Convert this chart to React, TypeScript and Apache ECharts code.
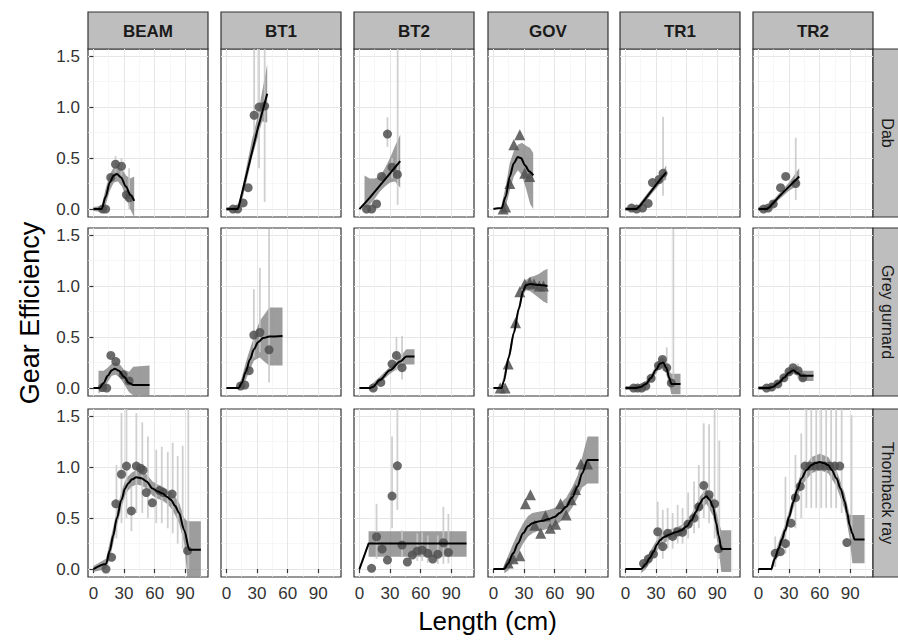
import React, { useEffect, useRef } from "react";
import * as echarts from "echarts";

const gears = ["BEAM", "BT1", "BT2", "GOV", "TR1", "TR2"];
const species = ["Dab", "Grey gurnard", "Thornback ray"];
const xTicks = [0, 30, 60, 90];
const xMinor = [15, 45, 75, 105];
const yTicks = [0, 0.5, 1, 1.5];
const yMinor = [0.25, 0.75, 1.25];

// ---------- Dab ----------
const dabBeamPts = [[9, 0], [12, 0], [17, 0.31], [21.7, 0.44], [27.5, 0.42], [32.4, 0.14], [35, 0.11]];
const dabBeamErr = [[21.7, 0.36, 0.52], [27.5, 0.33, 0.5], [35, 0.0, 0.4]];
const dabBeamFit = [[0, 0], [8, 0], [12, 0.12], [16, 0.26], [20, 0.33], [23, 0.345], [27, 0.31], [32, 0.22], [36, 0.14], [40, 0.08]];
const dabBeamBand = [[0, -0.02, 0.02], [8, -0.03, 0.03], [12, 0.04, 0.2], [16, 0.18, 0.34], [20, 0.26, 0.41], [24, 0.27, 0.42], [28, 0.22, 0.39], [32, 0.11, 0.33], [36, 0.0, 0.3], [40, -0.08, 0.32]];

const dabBt1Pts = [[6.5, 0], [11, 0], [16.4, 0.06], [21.3, 0.21], [27.2, 0.92], [32, 1.0], [37.5, 1.01]];
const dabBt1Err = [[27.2, 0.75, 1.6], [32, 0.4, 1.6], [37.5, 0.07, 1.6]];
const dabBt1Fit = [[0, 0], [11, 0], [12, 0.02], [20, 0.35], [30, 0.76], [40, 1.13]];
const dabBt1Band = [[0, -0.02, 0.02], [11, -0.02, 0.02], [15, 0.07, 0.18], [20, 0.28, 0.43], [25, 0.5, 0.68], [30, 0.68, 0.88], [35, 0.86, 1.15], [40, 0.85, 1.42]];

const dabBt2Pts = [[7, 0], [12, 0], [16.8, 0.05], [21.7, 0.32], [27.5, 0.735], [32, 0.41], [37.2, 0.34]];
const dabBt2Err = [[27.5, 0.61, 0.9], [32, 0.3, 0.5], [37.5, 0.04, 1.6]];
const dabBt2Fit = [[0, 0], [10, 0.11], [20, 0.23], [30, 0.35], [40, 0.47]];
const dabBt2Band = [[5, 0.0, 0.33], [10, 0.04, 0.3], [15, 0.1, 0.3], [20, 0.17, 0.32], [25, 0.22, 0.4], [30, 0.26, 0.5], [35, 0.27, 0.62], [40, 0.21, 0.73]];

const dabGovPts = [[9.5, 0], [12, 0.02], [16.1, 0.25], [20, 0.63], [25.9, 0.73], [30.7, 0.35], [35.6, 0.32]];
const dabGovErr: number[][] = [];
const dabGovFit = [[0, 0], [8, 0.01], [12, 0.12], [16, 0.32], [20, 0.45], [24, 0.51], [27, 0.5], [31, 0.43], [35, 0.37], [39, 0.33]];
const dabGovBand = [[8, -0.02, 0.04], [12, 0.02, 0.22], [16, 0.18, 0.45], [20, 0.32, 0.57], [24, 0.38, 0.63], [28, 0.33, 0.65], [32, 0.2, 0.62], [36, 0.05, 0.6], [39, 0.0, 0.55]];

const dabTr1Pts = [[6, 0.01], [11, 0], [16.8, 0.01], [22.3, 0.055], [26.5, 0.26], [33, 0.29], [36.9, 0.35]];
const dabTr1Err = [[36.9, 0.13, 0.905]];
const dabTr1Fit = [[0, 0], [11, 0], [15, 0.04], [25, 0.17], [35, 0.3], [40, 0.36]];
const dabTr1Band = [[0, -0.02, 0.02], [11, -0.02, 0.02], [15, 0.01, 0.07], [25, 0.14, 0.2], [35, 0.26, 0.34], [40, 0.29, 0.43]];

const dabTr2Pts = [[5, 0], [9.6, 0.01], [14.5, 0.05], [21.7, 0.21], [26.8, 0.32], [36.6, 0.25]];
const dabTr2Err = [[36.6, 0.09, 0.7]];
const dabTr2Fit = [[0, 0], [8, 0], [11, 0.02], [20, 0.12], [30, 0.22], [40, 0.32]];
const dabTr2Band = [[0, -0.02, 0.02], [8, -0.02, 0.02], [11, -0.01, 0.05], [20, 0.09, 0.15], [30, 0.18, 0.26], [40, 0.24, 0.4]];

// ---------- Grey gurnard ----------
const ggBeamPts = [[9, 0.005], [13, 0], [17.1, 0.32], [22, 0.26], [29.1, 0.13], [35, 0.07]];
const ggBeamErr: number[][] = [];
const ggBeamFit = [[0, 0], [6, 0], [10, 0.05], [14, 0.12], [18, 0.175], [21, 0.19], [25, 0.17], [30, 0.11], [35, 0.05], [39, 0.03], [55, 0.03]];
const ggBeamBand = [[5, -0.05, 0.17], [10, -0.02, 0.17], [14, 0.06, 0.2], [18, 0.12, 0.24], [22, 0.13, 0.25], [26, 0.1, 0.23], [30, 0.04, 0.18], [35, -0.04, 0.16], [39, -0.07, 0.21], [55, -0.07, 0.22]];

const ggBt1Pts = [[13.9, 0.02], [18, 0.03], [22.3, 0.17], [26.9, 0.52], [32.8, 0.545], [41.8, 0.375]];
const ggBt1Err = [[26.9, 0.3, 0.97], [32.8, 0.35, 1.18], [41.8, 0.055, 1.56]];
const ggBt1Fit = [[0, 0], [12, 0], [15, 0.05], [19, 0.16], [23, 0.28], [27, 0.38], [31, 0.45], [36, 0.49], [42, 0.505], [55, 0.51]];
const ggBt1Band = [[12, -0.02, 0.03], [15, 0.0, 0.1], [19, 0.08, 0.25], [23, 0.18, 0.38], [27, 0.27, 0.5], [32.7, 0.3, 0.66], [37, 0.26, 0.72], [42, 0.22, 0.79], [55, 0.22, 0.79]];

const ggBt2Pts = [[13.5, 0], [21, 0.055], [32, 0.235], [36.3, 0.32], [41.8, 0.2]];
const ggBt2Err = [[36.3, 0.17, 0.5], [41.8, 0.085, 0.51]];
const ggBt2Fit = [[0, 0], [10, 0], [13, 0.01], [20, 0.08], [30, 0.175], [40, 0.26], [46, 0.31], [54, 0.31]];
const ggBt2Band = [[10, -0.02, 0.02], [20, 0.05, 0.11], [30, 0.14, 0.21], [40, 0.21, 0.31], [46, 0.23, 0.38], [54, 0.23, 0.38]];

const ggGovPts = [[6.7, 0], [11.5, 0], [14.5, 0.235], [21.7, 0.64], [25.9, 0.945], [30.7, 1.02], [35.6, 1.035], [39.8, 1.02], [45, 1.0], [49, 1.0]];
const ggGovErr: number[][] = [];
const ggGovFit = [[0, 0], [8, 0], [10, 0.06], [15, 0.3], [20, 0.54], [25, 0.78], [29, 0.95], [32, 1.01], [36, 1.02], [45, 1.01], [53, 1.0]];
const ggGovBand = [[8, -0.03, 0.03], [15, 0.26, 0.34], [20, 0.5, 0.58], [25, 0.74, 0.82], [29, 0.91, 0.99], [32, 0.96, 1.06], [36, 0.95, 1.09], [40, 0.92, 1.1], [45, 0.88, 1.12], [49, 0.85, 1.15], [53, 0.83, 1.17]];

const ggTr1Pts = [[8, 0], [12, 0], [16, 0], [20, 0.02], [25.2, 0.095], [32.4, 0.22], [36.3, 0.28], [40.5, 0.2], [45, 0.05]];
const ggTr1Err = [[47, 0.02, 1.56], [40.5, 0.12, 0.4]];
const ggTr1Fit = [[0, 0], [10, 0], [15, 0.01], [20, 0.04], [25, 0.1], [30, 0.18], [34, 0.24], [37, 0.25], [40, 0.2], [43, 0.1], [45, 0.04], [54, 0.04]];
const ggTr1Band = [[0, -0.02, 0.02], [10, -0.02, 0.02], [20, 0.01, 0.07], [25, 0.07, 0.13], [30, 0.14, 0.22], [34, 0.2, 0.29], [37, 0.2, 0.3], [40, 0.14, 0.26], [43, 0.03, 0.17], [45, -0.06, 0.14], [54, -0.06, 0.14]];

const ggTr2Pts = [[8, 0], [13, 0.01], [19, 0.04], [25, 0.1], [30, 0.16], [34, 0.2], [38.9, 0.17], [43.5, 0.1]];
const ggTr2Err = [[38.9, 0.1, 0.24]];
const ggTr2Fit = [[0, 0], [10, 0], [14, 0.01], [20, 0.05], [25, 0.1], [30, 0.15], [34, 0.175], [38, 0.15], [42, 0.12], [54, 0.12]];
const ggTr2Band = [[0, -0.02, 0.02], [10, -0.02, 0.02], [20, 0.03, 0.08], [25, 0.07, 0.13], [30, 0.12, 0.18], [34, 0.14, 0.21], [38, 0.12, 0.19], [42, 0.07, 0.17], [54, 0.07, 0.17]];

// ---------- Thornback ray ----------
const trBeamPts = [[12.3, 0], [17.8, 0.115], [22, 0.64], [27.5, 0.93], [32.4, 1.01], [37.2, 0.57], [42.1, 1.01], [46.3, 0.99], [48.6, 0.97], [51.8, 0.75], [57.7, 0.65], [64.8, 0.77], [68.5, 0.75], [77.1, 0.735], [92.3, 0.18]];
const trBeamErr = [[22.6, 0.3, 1.02], [27.5, 0.45, 1.53], [32.4, 0.5, 1.6], [37.2, 0.37, 0.81], [42.1, 0.55, 1.53], [47.9, 0.55, 1.44], [53.4, 0.5, 1.3], [61.6, 0.45, 1.17], [67, 0.45, 1.2], [72.9, 0.4, 1.15], [77.7, 0.35, 1.24], [82.6, 0.25, 1.11], [87.5, 0.2, 1.21], [93, 0.0, 1.6]];
const trBeamFit = [[0, 0], [12.3, 0.05], [16, 0.18], [19.4, 0.33], [23, 0.5], [27.5, 0.68], [31, 0.79], [34, 0.84], [38, 0.88], [42, 0.9], [47, 0.89], [52, 0.86], [58, 0.79], [63, 0.76], [68, 0.74], [72, 0.71], [76, 0.68], [80, 0.62], [84, 0.55], [89, 0.38], [94, 0.19], [105.3, 0.19]];
const trBeamBand = [[0, -0.03, 0.03], [12.3, 0.0, 0.1], [16, 0.1, 0.26], [19.4, 0.25, 0.41], [23, 0.42, 0.58], [27.5, 0.6, 0.76], [31, 0.72, 0.86], [34, 0.77, 0.91], [38, 0.81, 0.95], [42, 0.83, 0.97], [47, 0.82, 0.96], [52, 0.79, 0.93], [58, 0.72, 0.86], [63, 0.69, 0.83], [68, 0.67, 0.81], [72, 0.64, 0.78], [76, 0.6, 0.76], [80, 0.53, 0.71], [84, 0.45, 0.65], [89, 0.25, 0.5], [92, -0.07, 0.47], [105.3, -0.07, 0.47]];

const trBt2Pts = [[11.9, 0.007], [16.8, 0.317], [22.3, 0.196], [27.5, 0.088], [32, 0.716], [37.2, 1.013], [41.8, 0.235], [47, 0.069], [51.8, 0.137], [56.7, 0.176], [61.5, 0.186], [67, 0.154], [71.9, 0.098], [76.8, 0.144], [82.3, 0.258], [87.2, 0.163]];
const trBt2Err = [[16.8, 0.1, 0.64], [32, 0.4, 1.3], [37.2, 0.58, 1.6], [41.8, 0.12, 0.38], [56.7, 0.08, 0.35], [61.5, 0.08, 0.36], [67, 0.06, 0.33], [76.8, 0.05, 0.33], [82.3, 0.05, 0.61], [87.2, 0.056, 0.54]];
const trBt2Fit = [[0, 0], [9, 0.25], [105, 0.25]];
const trBt2Band = [[9, 0.12, 0.37], [105, 0.12, 0.37]];

const trGovPts = [[14.5, 0.06], [19.4, 0.1], [25.9, 0.13], [31.4, 0.64], [36.3, 0.73], [40.5, 0.43], [46.4, 0.35], [51, 0.52], [55.7, 0.4], [60.9, 0.44], [65.8, 0.64], [71.3, 0.53], [76.2, 0.68], [80.5, 0.78], [85.7, 1.03], [92.3, 1.03]];
const trGovErr: number[][] = [];
const trGovFit = [[0, 0], [10.6, 0], [14, 0.05], [19.4, 0.154], [24, 0.25], [29.1, 0.35], [34, 0.42], [38.2, 0.45], [43, 0.465], [48.6, 0.475], [54, 0.49], [59.9, 0.51], [65, 0.55], [71.3, 0.61], [77, 0.7], [82.6, 0.81], [87, 0.94], [92.3, 1.07], [103, 1.07]];
const trGovBand = [[10.6, -0.04, 0.04], [14, -0.02, 0.12], [19.4, 0.06, 0.25], [24, 0.15, 0.35], [29.1, 0.25, 0.45], [34, 0.32, 0.52], [38.2, 0.35, 0.55], [43, 0.37, 0.56], [48.6, 0.38, 0.57], [54, 0.4, 0.58], [59.9, 0.42, 0.6], [65, 0.46, 0.64], [71.3, 0.52, 0.7], [77, 0.6, 0.8], [82.6, 0.7, 0.92], [87, 0.8, 1.1], [92.3, 0.84, 1.3], [103, 0.84, 1.3]];

const trTr1Pts = [[17.8, 0.055], [22.5, 0.1], [27.5, 0.147], [31.7, 0.366], [36.6, 0.22], [41.4, 0.35], [46.3, 0.32], [51.2, 0.366], [56, 0.36], [61.5, 0.44], [67.3, 0.5], [71.9, 0.61], [76.8, 0.82], [82, 0.73], [87.4, 0.64], [91.4, 0.2]];
const trTr1Err = [[31.7, 0.2, 0.66], [36.6, 0.1, 0.58], [41.4, 0.2, 0.6], [46.3, 0.2, 0.55], [51.2, 0.25, 0.63], [56, 0.25, 0.6], [61.5, 0.3, 0.75], [67.3, 0.35, 0.86], [71.9, 0.4, 1.02], [76.8, 0.5, 1.43], [82, 0.45, 1.42], [87.4, 0.3, 1.6], [92, 0.1, 1.26]];
const trTr1Fit = [[0, 0], [15.5, 0], [20, 0.05], [24, 0.11], [27.5, 0.17], [31, 0.24], [34, 0.285], [38, 0.315], [43.7, 0.34], [49, 0.36], [55, 0.38], [60, 0.42], [64.8, 0.48], [69, 0.56], [72.9, 0.64], [76, 0.69], [79.4, 0.715], [82.5, 0.68], [85.9, 0.61], [89, 0.45], [91.4, 0.33], [94, 0.196], [103.7, 0.196]];
const trTr1Band = [[15.5, -0.04, 0.04], [20, 0.0, 0.1], [27.5, 0.11, 0.23], [34, 0.23, 0.34], [43.7, 0.29, 0.39], [55, 0.33, 0.43], [64.8, 0.42, 0.54], [72.9, 0.57, 0.71], [79.4, 0.64, 0.79], [85.9, 0.52, 0.7], [89, 0.33, 0.57], [91.4, 0.2, 0.46], [94, -0.03, 0.38], [103.7, -0.03, 0.38]];

const trTr2Pts = [[16.5, 0.154], [21.5, 0.17], [26.5, 0.25], [32, 0.45], [36.3, 0.7], [41, 0.81], [45.7, 1.01], [50.5, 1.01], [55.4, 1.01], [60.2, 1.01], [65.1, 1.01], [70, 1.01], [74.8, 1.01], [79.7, 1.01], [86.7, 0.26]];
const trTr2Err = [[16.5, 0.02, 0.32], [26.5, 0.15, 0.905], [36.3, 0.4, 1.12], [42, 0.5, 1.33], [47, 0.6, 1.6], [51.8, 0.6, 1.6], [56.7, 0.6, 1.6], [61.6, 0.6, 1.6], [66.4, 0.6, 1.6], [71.3, 0.6, 1.6], [76.2, 0.6, 1.6], [81.6, 0.55, 1.6], [91.3, 0.3, 1.51]];
const trTr2Fit = [[0, 0], [12.5, 0], [16, 0.1], [19.7, 0.2], [23, 0.29], [26.2, 0.38], [30, 0.51], [34.3, 0.66], [38, 0.78], [42.4, 0.89], [47, 0.97], [52.1, 1.02], [56, 1.04], [60.2, 1.05], [64, 1.04], [68.4, 1.02], [72, 0.97], [76.5, 0.89], [80.5, 0.79], [84.6, 0.66], [87, 0.55], [89.4, 0.43], [92, 0.35], [94.3, 0.29], [104, 0.29]];
const trTr2Band = [[12.5, -0.03, 0.03], [16, 0.05, 0.15], [19.7, 0.14, 0.26], [26.2, 0.32, 0.44], [34.3, 0.6, 0.72], [42.4, 0.82, 0.96], [52.1, 0.94, 1.1], [60.2, 0.97, 1.13], [68.4, 0.94, 1.1], [76.5, 0.81, 0.97], [84.6, 0.58, 0.74], [89.4, 0.3, 0.53], [92, 0.056, 0.53], [104, 0.056, 0.53]];

type Panel = { pts: number[][]; err: number[][]; fit: number[][]; band: number[][] } | null;

const panelData: Panel[][] = [
  [
    { pts: dabBeamPts, err: dabBeamErr, fit: dabBeamFit, band: dabBeamBand },
    { pts: dabBt1Pts, err: dabBt1Err, fit: dabBt1Fit, band: dabBt1Band },
    { pts: dabBt2Pts, err: dabBt2Err, fit: dabBt2Fit, band: dabBt2Band },
    { pts: dabGovPts, err: dabGovErr, fit: dabGovFit, band: dabGovBand },
    { pts: dabTr1Pts, err: dabTr1Err, fit: dabTr1Fit, band: dabTr1Band },
    { pts: dabTr2Pts, err: dabTr2Err, fit: dabTr2Fit, band: dabTr2Band },
  ],
  [
    { pts: ggBeamPts, err: ggBeamErr, fit: ggBeamFit, band: ggBeamBand },
    { pts: ggBt1Pts, err: ggBt1Err, fit: ggBt1Fit, band: ggBt1Band },
    { pts: ggBt2Pts, err: ggBt2Err, fit: ggBt2Fit, band: ggBt2Band },
    { pts: ggGovPts, err: ggGovErr, fit: ggGovFit, band: ggGovBand },
    { pts: ggTr1Pts, err: ggTr1Err, fit: ggTr1Fit, band: ggTr1Band },
    { pts: ggTr2Pts, err: ggTr2Err, fit: ggTr2Fit, band: ggTr2Band },
  ],
  [
    { pts: trBeamPts, err: trBeamErr, fit: trBeamFit, band: trBeamBand },
    null,
    { pts: trBt2Pts, err: trBt2Err, fit: trBt2Fit, band: trBt2Band },
    { pts: trGovPts, err: trGovErr, fit: trGovFit, band: trGovBand },
    { pts: trTr1Pts, err: trTr1Err, fit: trTr1Fit, band: trTr1Band },
    { pts: trTr2Pts, err: trTr2Err, fit: trTr2Fit, band: trTr2Band },
  ],
];

// layout
const FONT = '"Liberation Sans", Arial, Helvetica, sans-serif';
const COL_LEFT = [88, 221, 354, 488, 620, 753];
const COL_W = 120;
const ROW_TOP = [49, 228, 409];
const ROW_H = 168;
const STRIP_TOP = 12;
const STRIP_H = 37;
const RIGHT_STRIP_X = 873;
const X_MIN = -5.3;
const X_MAX = 112.3;
const Y_MIN = -0.078;
const Y_MAX = 1.57;

function buildOption() {
  const grid: any[] = [];
  const xAxis: any[] = [];
  const yAxis: any[] = [];
  const series: any[] = [];

  species.forEach((sp, r) => {
    gears.forEach((g, c) => {
      const i = r * gears.length + c;
      grid.push({
        left: COL_LEFT[c],
        top: ROW_TOP[r],
        width: COL_W,
        height: ROW_H,
        show: true,
        backgroundColor: "#ffffff",
        borderColor: "#333333",
        borderWidth: 1.2,
        containLabel: false,
      });
      const bottomRow = r === species.length - 1;
      const firstCol = c === 0;
      xAxis.push({
        gridIndex: i,
        type: "value",
        min: X_MIN,
        max: X_MAX,
        position: "bottom",
        axisLine: { show: false },
        axisTick: { show: bottomRow, customValues: xTicks, length: 4, lineStyle: { color: "#333333", width: 1.2 } },
        axisLabel: { show: bottomRow, customValues: xTicks, color: "#333333", fontSize: 17, fontFamily: FONT, margin: 8 },
        splitLine: { show: true, lineStyle: { color: "#e6e6e6", width: 1 } },
      });
      xAxis.push({
        gridIndex: i,
        type: "value",
        min: X_MIN,
        max: X_MAX,
        position: "top",
        axisLine: { show: false },
        axisTick: { show: false, customValues: xMinor },
        axisLabel: { show: false },
        splitLine: { show: true, lineStyle: { color: "#f2f2f2", width: 0.6 } },
      });
      yAxis.push({
        gridIndex: i,
        type: "value",
        min: Y_MIN,
        max: Y_MAX,
        position: "left",
        axisLine: { show: false },
        axisTick: { show: firstCol, customValues: yTicks, length: 4, lineStyle: { color: "#333333", width: 1.2 } },
        axisLabel: {
          show: firstCol,
          customValues: yTicks,
          color: "#333333",
          fontSize: 17,
          fontFamily: FONT,
          margin: 8,
          formatter: (v: number) => v.toFixed(1),
        },
        splitLine: { show: true, lineStyle: { color: "#e6e6e6", width: 1 } },
      });
      yAxis.push({
        gridIndex: i,
        type: "value",
        min: Y_MIN,
        max: Y_MAX,
        position: "right",
        axisLine: { show: false },
        axisTick: { show: false, customValues: yMinor },
        axisLabel: { show: false },
        splitLine: { show: true, lineStyle: { color: "#f2f2f2", width: 0.6 } },
      });

      const p = panelData[r][c];
      if (!p) return;
      const ax = { xAxisIndex: 2 * i, yAxisIndex: 2 * i };
      const band = p.band;
      series.push({
        type: "custom",
        ...ax,
        clip: true,
        silent: true,
        z: 1,
        data: band,
        encode: { x: 0, y: [1, 2] },
        renderItem: (params: any, api: any) => {
          if (params.dataIndex !== 0) return null;
          const upper = band.map((b) => api.coord([b[0], b[2]]));
          const lower = band.map((b) => api.coord([b[0], b[1]])).reverse();
          return {
            type: "polygon",
            shape: { points: upper.concat(lower) },
            style: { fill: "rgba(115,115,115,0.7)" },
          };
        },
      });
      series.push({
        type: "custom",
        ...ax,
        clip: true,
        silent: true,
        z: 2,
        data: p.err,
        encode: { x: 0, y: [1, 2] },
        renderItem: (params: any, api: any) => {
          const x = api.value(0);
          const a = api.coord([x, api.value(1)]);
          const b = api.coord([x, api.value(2)]);
          return {
            type: "line",
            shape: { x1: a[0], y1: a[1], x2: b[0], y2: b[1] },
            style: { stroke: "rgba(200,200,200,0.85)", lineWidth: 1.8 },
          };
        },
      });
      series.push({
        type: "scatter",
        ...ax,
        z: 3,
        silent: true,
        data: p.pts,
        symbol: g === "GOV" ? "triangle" : "circle",
        symbolSize: g === "GOV" ? 11 : 9,
        itemStyle: { color: "#505050", opacity: 0.85 },
      });
      series.push({
        type: "line",
        ...ax,
        z: 4,
        silent: true,
        data: p.fit,
        showSymbol: false,
        smooth: p.fit.length > 6 ? 0.3 : false,
        smoothMonotone: "x",
        lineStyle: { color: "#000000", width: 2 },
      });
    });
  });

  const graphic: any[] = [];
  gears.forEach((g, c) => {
    graphic.push({
      type: "rect",
      shape: { x: COL_LEFT[c], y: STRIP_TOP, width: COL_W, height: STRIP_H },
      style: { fill: "#bebebe", stroke: "#333333", lineWidth: 1.2 },
    });
    graphic.push({
      type: "text",
      x: COL_LEFT[c] + COL_W / 2,
      y: STRIP_TOP + STRIP_H / 2 + 1,
      style: {
        text: g,
        fill: "#1a1a1a",
        font: `bold 17px ${FONT}`,
        textAlign: "center",
        textVerticalAlign: "middle",
        align: "center",
        verticalAlign: "middle",
      },
    });
  });
  species.forEach((sp, r) => {
    graphic.push({
      type: "rect",
      shape: { x: RIGHT_STRIP_X, y: ROW_TOP[r], width: 40, height: ROW_H },
      style: { fill: "#bebebe", stroke: "#333333", lineWidth: 1.2 },
    });
    graphic.push({
      type: "text",
      x: 887,
      y: ROW_TOP[r] + ROW_H / 2,
      rotation: -Math.PI / 2,
      style: {
        text: sp,
        fill: "#1a1a1a",
        font: `16px ${FONT}`,
        textAlign: "center",
        textVerticalAlign: "middle",
        align: "center",
        verticalAlign: "middle",
      },
    });
  });
  graphic.push({
    type: "text",
    x: 30,
    y: (ROW_TOP[0] + ROW_TOP[2] + ROW_H) / 2,
    rotation: Math.PI / 2,
    style: {
      text: "Gear Efficiency",
      fill: "#000000",
      font: `27px ${FONT}`,
      textAlign: "center",
      textVerticalAlign: "middle",
      align: "center",
      verticalAlign: "middle",
    },
  });
  graphic.push({
    type: "text",
    x: (COL_LEFT[0] + RIGHT_STRIP_X) / 2 + 7,
    y: 621,
    style: {
      text: "Length (cm)",
      fill: "#000000",
      font: `26px ${FONT}`,
      textAlign: "center",
      textVerticalAlign: "middle",
      align: "center",
      verticalAlign: "middle",
    },
  });

  return {
    animation: false,
    backgroundColor: "#ffffff",
    grid,
    xAxis,
    yAxis,
    series,
    graphic,
  };
}

export default function App() {
  const ref = useRef<HTMLDivElement>(null);
  useEffect(() => {
    document.body.style.margin = "0";
    if (!ref.current) return;
    const chart = echarts.init(ref.current, null, { renderer: "svg" });
    chart.setOption(buildOption() as any);
    return () => chart.dispose();
  }, []);
  return <div ref={ref} style={{ width: 898, height: 640 }} />;
}
